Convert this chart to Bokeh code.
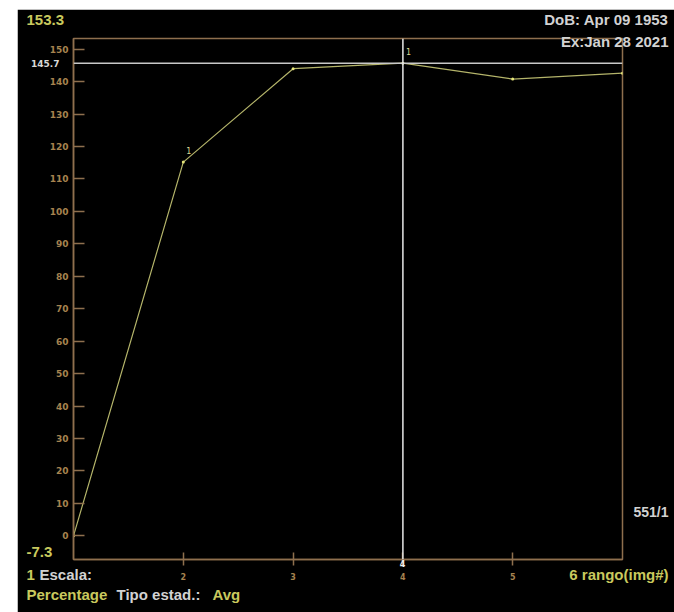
from bokeh.plotting import figure
from bokeh.models import Range1d, FixedTicker, Span
from bokeh.embed import file_html
from bokeh.resources import INLINE
from bokeh.core.properties import value

# ---- data ----
img_index = [1, 2, 3, 4, 5, 6]
percent = [0.0, 115.2, 144.0, 145.7, 140.8, 142.6]
marker_x = [2, 4]
marker_y = [115.2, 145.7]
marker_text = ["1", "1"]
y_ticks = [0, 10, 20, 30, 40, 50, 60, 70, 80, 90, 100, 110, 120, 130, 140, 150]
x_ticks = [2, 3, 4, 5]
y_min, y_max = -7.3, 153.3
x_min, x_max = 1, 6
cursor_x = 4
cursor_y = 145.7

TAN = "#8e6f4e"
TICKLBL = "#a6834f"
YEL = "#c9c95e"
GRAY = "#d2d2d2"

p = figure(width=657, height=603, output_backend="svg", toolbar_location=None,
           x_range=Range1d(x_min, x_max), y_range=Range1d(y_min, y_max),
           background_fill_color="black", border_fill_color="black",
           min_border_left=56, min_border_right=52, min_border_top=29, min_border_bottom=53)
p.margin = (9, 0, 0, 17)
p.outline_line_color = TAN
p.outline_line_width = 1.5
p.grid.visible = False

ya = p.yaxis[0]
ya.ticker = FixedTicker(ticks=y_ticks)
ya.axis_line_color = TAN
ya.axis_line_width = 1.5
ya.major_tick_line_color = TAN
ya.major_tick_line_width = 1.5
ya.major_tick_in = 11
ya.major_tick_out = 0
ya.minor_tick_line_color = None
ya.major_label_text_color = TICKLBL
ya.major_label_text_font = "DejaVu Sans"
ya.major_label_text_font_style = "bold"
ya.major_label_text_font_size = "9px"
ya.major_label_standoff = 5

xa = p.xaxis[0]
xa.ticker = FixedTicker(ticks=x_ticks)
xa.axis_line_color = TAN
xa.axis_line_width = 1.5
xa.major_tick_line_color = TAN
xa.major_tick_line_width = 1.5
xa.major_tick_in = 7
xa.major_tick_out = 6
xa.minor_tick_line_color = None
xa.major_label_text_color = TICKLBL
xa.major_label_text_font = "DejaVu Sans"
xa.major_label_text_font_style = "bold"
xa.major_label_text_font_size = "8px"
xa.major_label_standoff = 7

# cursor lines
p.add_layout(Span(location=cursor_y, dimension="width", line_color="#c8c8c8", line_width=1.5))
p.add_layout(Span(location=cursor_x, dimension="height", line_color="#e8e8e8", line_width=1.5))

# data line
p.line(img_index, percent, line_color="#b4b46a", line_width=1.2)
p.scatter(img_index, percent, size=3, color="#e6e67a", line_color=None)
p.text(marker_x, marker_y, text=marker_text, x_offset=3, y_offset=-8,
       text_color="#d8d890", text_font_size="8px", text_font=value("DejaVu Sans"),
       text_baseline="bottom")

# helpers: page pixel positions (reference) -> data coords for text placement
FL, FR, FT, FB = 73.0, 622.0, 38.0, 559.0
def dx(sx):
    return x_min + (sx - FL) / (FR - FL) * (x_max - x_min)
def dy(sy):
    return y_min + (FB - sy) / (FB - FT) * (y_max - y_min)

def lab(text, sx, sy, color, size="15px", align="left", bold=True, font="Liberation Sans"):
    p.text([dx(sx)], [dy(sy)], text=[text], text_color=color,
           text_font=value(font), text_font_size=size,
           text_font_style="bold" if bold else "normal",
           text_align=align, text_baseline="middle", level="overlay")

lab(f"{y_max:.1f}", 26, 19, YEL)
lab(f"{y_min:.1f}", 26, 551, YEL)
lab("DoB: Apr 09 1953", 668, 19, GRAY, align="right")
lab("Ex:Jan 28 2021", 668, 41, GRAY, align="right")
lab("551/1", 668, 511, GRAY, align="right", size="14px")
lab("1", 26, 574, YEL)
lab("Escala:", 39, 574, GRAY)
lab("6 rango(img#)", 668, 574, YEL, align="right")
lab("Percentage", 26, 594, YEL)
lab("Tipo estad.:", 116, 594, GRAY)
lab("Avg", 212, 594, YEL)
lab(f"{cursor_y}", 59, 63, "#d8d8d8", size="9px", align="right", font="DejaVu Sans")
lab(f"{cursor_x}", 402, 563, "#f0f0f0", size="8px", align="center", font="DejaVu Sans")

open("out.html", "w").write(file_html(p, INLINE))
